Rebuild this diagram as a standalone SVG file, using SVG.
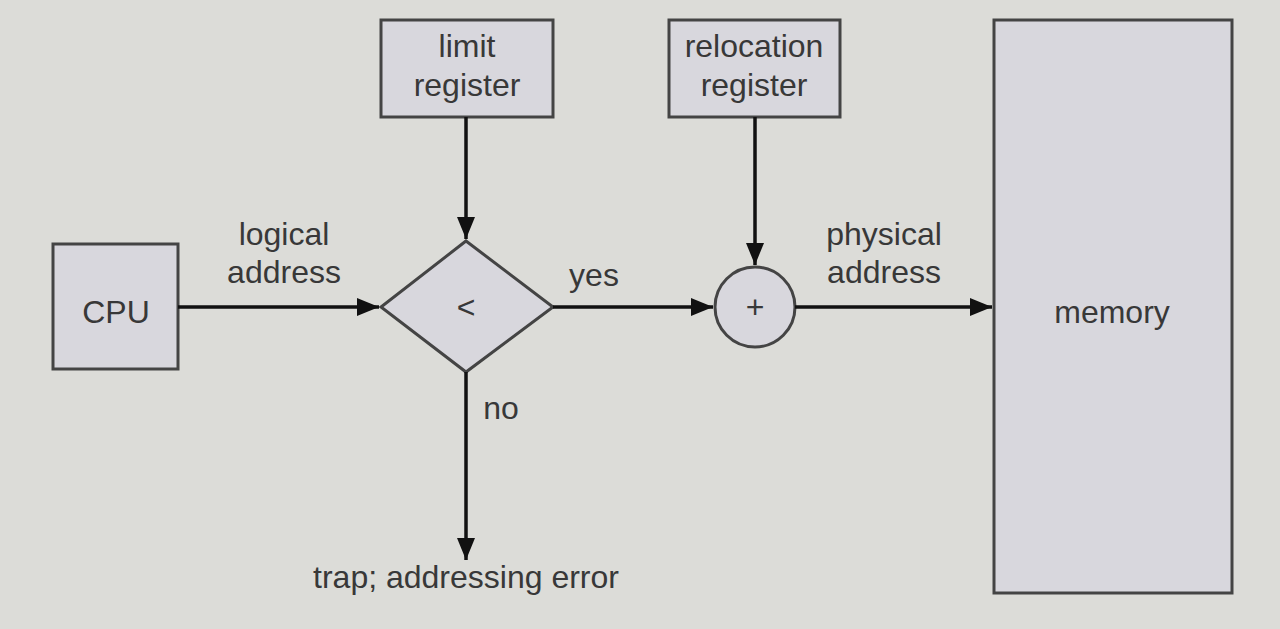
<svg xmlns="http://www.w3.org/2000/svg" width="1280" height="629" viewBox="0 0 1280 629">
<defs>
<marker id="arr" viewBox="0 0 22 18" refX="22" refY="9" markerWidth="22" markerHeight="18" markerUnits="userSpaceOnUse" orient="auto">
<path d="M0,0 L22,9 L0,18 z" fill="#111"/>
</marker>
<style>
.box{fill:#d8d7dd;stroke:#444;stroke-width:3}
.t{font-family:"Liberation Sans",Arial,sans-serif;font-size:32px;fill:#383838;text-anchor:middle}
.c{stroke:#111;stroke-width:3.5;fill:none}
</style>
</defs>
<rect width="1280" height="629" fill="#dcdcd8"/>
<g id="cpu"><rect class="box" x="53" y="244" width="125" height="125"/><text class="t" x="116" y="323">CPU</text></g>
<g id="limit"><rect class="box" x="381" y="20" width="172" height="97"/><text class="t" x="467" y="57">limit</text><text class="t" x="467" y="96">register</text></g>
<g id="relocation"><rect class="box" x="669" y="20" width="171" height="97"/><text class="t" x="754" y="57">relocation</text><text class="t" x="754" y="96">register</text></g>
<g id="compare"><polygon class="box" points="466,241 553,307 466,372 381,307"/><text class="t" x="466" y="318">&lt;</text></g>
<g id="adder"><circle class="box" cx="755" cy="307" r="40"/><text class="t" x="755" y="318">+</text></g>
<g id="memory"><rect class="box" x="994" y="20" width="238" height="573"/><text class="t" x="1112" y="323">memory</text></g>
<g id="trap"><text class="t" x="466" y="588">trap; addressing error</text></g>
<g id="connectors">
<path class="c" d="M178,307 H379" marker-end="url(#arr)"/>
<path class="c" d="M466,117 V239" marker-end="url(#arr)"/>
<path class="c" d="M755,117 V265" marker-end="url(#arr)"/>
<path class="c" d="M553,307 H713" marker-end="url(#arr)"/>
<path class="c" d="M795,307 H992" marker-end="url(#arr)"/>
<path class="c" d="M466,372 V560" marker-end="url(#arr)"/>
</g>
<g id="labels">
<text class="t" x="284" y="245">logical</text><text class="t" x="284" y="283">address</text>
<text class="t" x="594" y="286">yes</text>
<text class="t" x="501" y="419">no</text>
<text class="t" x="884" y="245">physical</text><text class="t" x="884" y="283">address</text>
</g>
</svg>
